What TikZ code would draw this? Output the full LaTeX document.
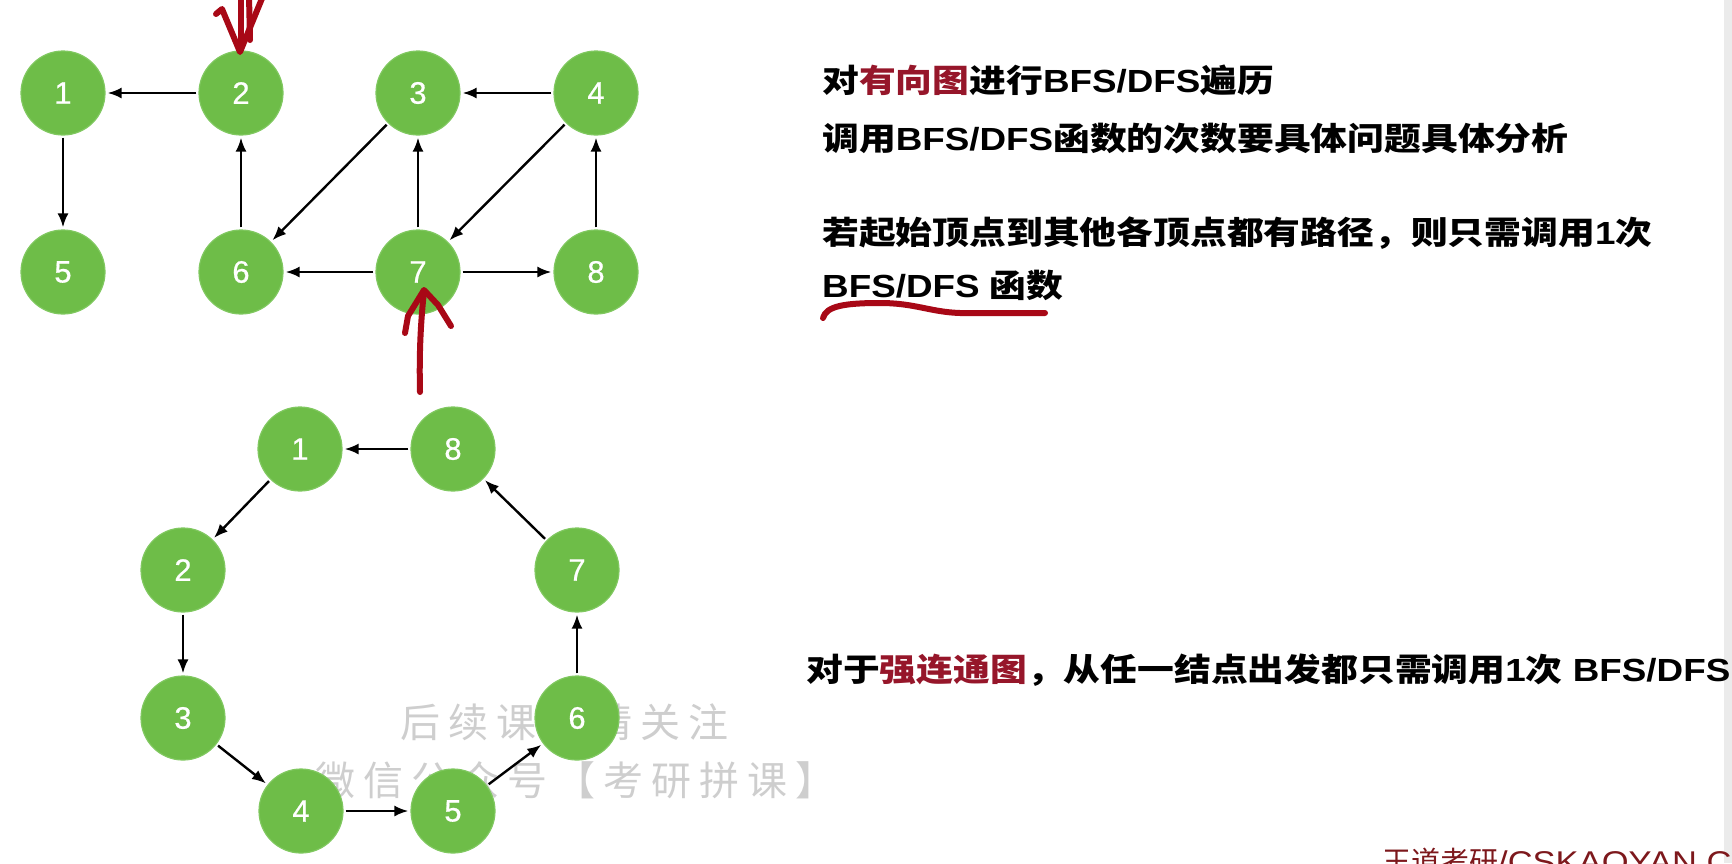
\documentclass[tikz,border=0pt]{standalone}
\usepackage{fontspec}
\setmainfont{Liberation Sans}
\newfontfamily\latw[FakeStretch=1.15]{Liberation Sans}
\newfontfamily\cjkw[FakeStretch=1.15]{Noto Sans CJK SC}
\newfontfamily\wmfont[LetterSpace=20]{Noto Sans CJK SC}
\newfontfamily\footcjk{Noto Sans CJK SC}
\newfontfamily\footlat[FakeStretch=1.15]{Liberation Sans}
\newfontfamily\digitfont[FakeBold=0.6]{Liberation Sans}
\usetikzlibrary{arrows.meta}

\definecolor{ngreen}{RGB}{110,189,72}
\definecolor{nrim}{RGB}{128,200,96}
\definecolor{hl}{RGB}{150,22,42}
\definecolor{ink}{RGB}{168,8,22}
\definecolor{wm}{RGB}{206,206,206}
\definecolor{foot}{RGB}{125,24,28}

\newcommand{\zh}[1]{{\cjkw #1}}

\begin{document}
\begin{tikzpicture}[x=1pt,y=-1pt,
  vtx/.style={circle,fill=ngreen,draw=nrim,line width=1.2pt,minimum size=84pt,
    inner sep=0pt,text=white,font=\digitfont\fontsize{31}{31}\selectfont},
  edge/.style={-{Latex[length=14pt,width=11pt]},line width=2.4pt,black,shorten >=2pt,shorten <=2pt},
  txt/.style={anchor=base west,inner sep=0pt,font=\latw\bfseries\fontsize{32}{38}\selectfont},
  wmark/.style={anchor=base west,inner sep=0pt,text=wm,font=\wmfont\fontsize{40}{40}\selectfont},
  inkline/.style={ink,line width=6pt,line cap=round,line join=round}]

\useasboundingbox (0,0) rectangle (1732,863);
\fill[white] (0,0) rectangle (1732,863);
\fill[black!8] (1724,0) rectangle (1732,863);

% watermark, lying under the graph
\node[wmark] (wm1) at (400,737) {后续课程请关注};
\node[wmark] (wm2) at (315,795) {微信公众号【考研拼课】};

% directed graph
\node[vtx] (t1) at (63,93)  {1};
\node[vtx] (t2) at (241,93) {2};
\node[vtx] (t3) at (418,93) {3};
\node[vtx] (t4) at (596,93) {4};
\node[vtx] (t5) at (63,272) {5};
\node[vtx] (t6) at (241,272) {6};
\node[vtx] (t7) at (418,272) {7};
\node[vtx] (t8) at (596,272) {8};

\draw[edge] (t2) -- (t1);
\draw[edge] (t1) -- (t5);
\draw[edge] (t6) -- (t2);
\draw[edge] (t3) -- (t6);
\draw[edge] (t4) -- (t3);
\draw[edge] (t4) -- (t7);
\draw[edge] (t7) -- (t3);
\draw[edge] (t7) -- (t6);
\draw[edge] (t7) -- (t8);
\draw[edge] (t8) -- (t4);

% strongly connected graph (a cycle)
\node[vtx] (b1) at (300,449) {1};
\node[vtx] (b8) at (453,449) {8};
\node[vtx] (b2) at (183,570) {2};
\node[vtx] (b7) at (577,570) {7};
\node[vtx] (b3) at (183,718) {3};
\node[vtx] (b6) at (577,718) {6};
\node[vtx] (b4) at (301,811) {4};
\node[vtx] (b5) at (453,811) {5};

\draw[edge] (b8) -- (b1);
\draw[edge] (b1) -- (b2);
\draw[edge] (b2) -- (b3);
\draw[edge] (b3) -- (b4);
\draw[edge] (b4) -- (b5);
\draw[edge] (b5) -- (b6);
\draw[edge] (b6) -- (b7);
\draw[edge] (b7) -- (b8);

% hand-drawn red marks
\coordinate (pa) at (241,-4);
\coordinate (pb) at (241,46);
\draw[inkline] (pa) -- (pb);
\draw[inkline] (249,-4) -- (250,40);
\draw[inkline] (216,14) -- (222,9) -- (240,52) -- (263,-4);

\coordinate (qa) at (420,392);
\coordinate (qb) at (424,291);
\draw[inkline] (qa) .. controls (419,350) and (421,320) .. (qb);
\draw[inkline] (405,333) -- (408,316) -- (424,290) -- (438,305) -- (451,326);

% explanatory text
\node[txt] (l1) at (822,92) {\zh{对}\zh{\color{hl}有向图}\zh{进行}BFS/DFS\zh{遍历}};
\node[txt] (l2) at (822,150) {\zh{调用}BFS/DFS\zh{函数的次数要具体问题具体分析}};
\node[txt] (l3) at (822,244) {\zh{若起始顶点到其他各顶点都有路径，则只需调用}1\zh{次}};
\node[txt] (l4) at (822,297) {BFS/DFS \zh{函数}};
\draw[inkline] (823,318) .. controls (826,306) and (845,303) .. (880,303)
  .. controls (915,303) and (930,312) .. (960,313) -- (1045,313);

\node[txt] (l5) at (806,681) {\zh{对于}\zh{\color{hl}强连通图}\zh{，从任一结点出发都只需调用}1\zh{次} BFS/DFS};

% footer, cut by the lower edge
\begin{scope}
  \clip (0,0) rectangle (1732,863);
  \node[anchor=base west,inner sep=0pt,text=foot]
    (ft) at (1382,872) {{\footcjk\fontsize{29}{29}\selectfont 王道考研}{\footlat\fontsize{30}{30}\selectfont /CSKAOYAN.COM}};
\end{scope}
\end{tikzpicture}
\end{document}
